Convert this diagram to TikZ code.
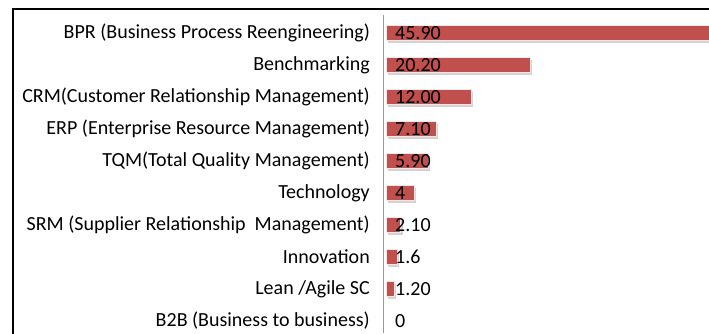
\documentclass[tikz,border=0pt]{standalone}
\usepackage{fontspec}
\setmainfont{Carlito}
\usepackage{xcolor}
\usetikzlibrary{shadows, positioning}
\definecolor{barred}{HTML}{C0504D}

\begin{document}
\begin{tikzpicture}[x=1pt, y=-1pt,
        cat/.style={anchor=east, inner sep=0pt, font=\fontsize{20}{22}\selectfont},
        val/.style={anchor=west, inner sep=0pt, font=\fontsize{20}{22}\selectfont},
        bar/.style={anchor=west, inner sep=0pt, minimum height=15pt, fill=barred,
                    draw=white!85!barred, line width=0.5pt,
                    drop shadow={shadow xshift=2pt, shadow yshift=-2pt, opacity=0.35}}]
        \useasboundingbox (0,0) rectangle (709,333);
        % frame and axis
        \draw[line width=2pt] (12.5,334) |- (710,8.5);
        \draw[gray!80] (383.5,15) -- (383.5,333);
        % one row per category
        \foreach \val/\lbl/\txt [count=\i] in {
              45.90/45.90/BPR (Business Process Reengineering),
              20.20/20.20/Benchmarking,
              12.00/12.00/CRM(Customer Relationship Management),
              7.10/7.10/ERP (Enterprise Resource Management),
              5.90/5.90/TQM(Total Quality Management),
              4/4/Technology,
              2.10/2.10/SRM (Supplier Relationship\ \ Management),
              1.6/1.6/Innovation,
              1.20/1.20/{Lean /Agile SC},
              0/0/B2B (Business to business)} {
          \node[cat] (cat\i) at (370,1+32*\i) {\txt};
          \coordinate (base\i) at (385.5,1+32*\i);
          \ifdim\val pt>0pt
            \node[bar, minimum width=7.13*\val pt] (bar\i) [right=0pt of base\i] {};
          \fi
          \node[val] (val\i) at (395,1+32*\i) {\lbl};
        }
\end{tikzpicture}
\end{document}
